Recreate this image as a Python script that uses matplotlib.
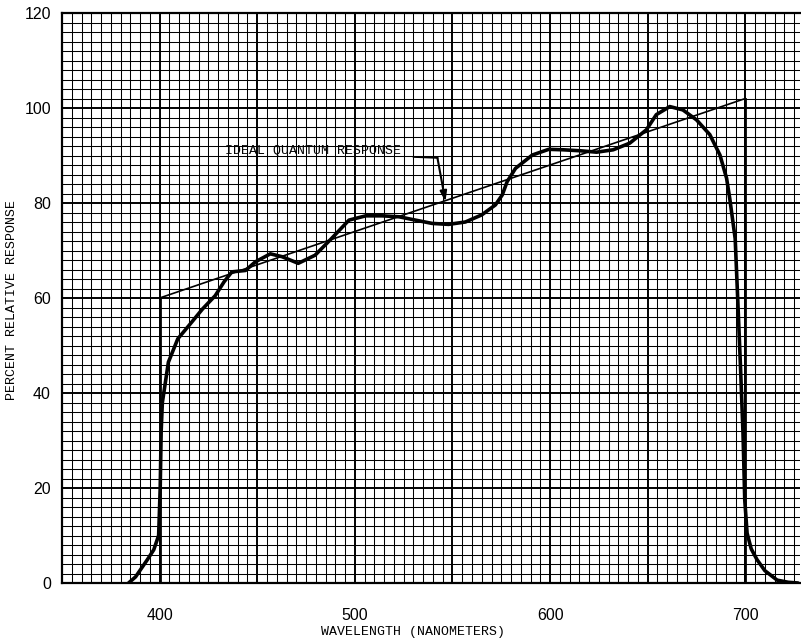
import matplotlib
matplotlib.use("Agg")
import matplotlib.pyplot as plt
from matplotlib.ticker import MultipleLocator, FuncFormatter

# Measured response curve (wavelength nm, percent relative response)
wavelength = [384.1, 387.7, 393.7, 397.0, 399.5, 400.3, 400.8, 401.4, 402.5, 404.5,
              409.3, 415.0, 422.0, 428.5, 433.0, 437.0, 444.0, 449.0, 456.7, 462.7,
              471.0, 479.6, 488.0, 497.0, 505.6, 514.0, 522.6, 531.0, 539.6, 548.0,
              556.6, 565.0, 572.0, 575.5, 578.0, 582.3, 590.9, 599.3, 606.8, 615.3,
              623.8, 632.3, 640.8, 649.3, 654.4, 661.3, 668.0, 675.0, 681.8, 687.0,
              690.4, 692.0, 694.8, 696.1, 697.5, 698.8, 699.7, 700.9, 703.0, 706.0,
              710.0, 716.3, 722.0, 727.0]
response = [0.0, 1.3, 4.9, 7.0, 10.0, 20.0, 32.0, 38.0, 41.0, 46.5,
            51.4, 54.2, 57.7, 60.5, 63.4, 65.5, 65.8, 67.6, 69.3, 68.7,
            67.3, 69.0, 72.5, 76.4, 77.3, 77.3, 77.1, 76.4, 75.7, 75.5,
            76.0, 77.5, 79.6, 81.7, 84.5, 87.3, 90.1, 91.3, 91.2, 91.0,
            90.7, 91.2, 92.6, 95.4, 98.6, 100.3, 99.6, 97.5, 94.4, 90.1,
            85.2, 81.0, 72.5, 59.8, 45.7, 31.6, 17.5, 10.5, 7.2, 4.9,
            2.6, 0.6, 0.15, 0.0]

# Ideal quantum response outline
ideal_x = [400, 400, 700, 700]
ideal_y = [0, 60, 102, 0]

x_ticks = [400, 500, 600, 700]
y_ticks = [0, 20, 40, 60, 80, 100, 120]

label_text = "IDEAL QUANTUM RESPONSE"
leader_x = [530.1, 542.3]
leader_y = [89.7, 89.5]
arrow_head = (546.4, 80.3)

fig = plt.figure(figsize=(8.01, 6.40), dpi=100)
ax = fig.add_axes([62 / 801, 1 - 583 / 640, 738 / 801, 570 / 640])

ax.set_xlim(350, 728)
ax.set_ylim(0, 120)

ax.xaxis.set_major_locator(MultipleLocator(50))
ax.xaxis.set_minor_locator(MultipleLocator(5))
ax.yaxis.set_major_locator(MultipleLocator(20))
ax.yaxis.set_minor_locator(MultipleLocator(2))

ax.xaxis.set_major_formatter(FuncFormatter(
    lambda v, p: f"{int(round(v))}" if int(round(v)) in x_ticks else ""))
ax.yaxis.set_major_formatter(FuncFormatter(
    lambda v, p: f"{int(round(v))}" if int(round(v)) in y_ticks else ""))

ax.grid(which="minor", color="black", linewidth=0.75)
ax.grid(which="major", color="black", linewidth=1.4)
ax.set_axisbelow(True)

ax.tick_params(which="both", length=0)
ax.tick_params(axis="x", pad=18, labelsize=11.5)
ax.tick_params(axis="y", pad=8, labelsize=11.5)
for lab in ax.get_xticklabels() + ax.get_yticklabels():
    lab.set_fontfamily("Liberation Sans")

for side in ["left", "bottom", "top"]:
    ax.spines[side].set_linewidth(1.6)
ax.spines["right"].set_visible(False)

# ideal response
ax.plot(ideal_x[1:3], ideal_y[1:3], color="black", linewidth=1.2, zorder=3)
ax.plot(ideal_x[:2], ideal_y[:2], color="black", linewidth=2.0, zorder=3)
ax.plot(ideal_x[2:], ideal_y[2:], color="black", linewidth=2.0, zorder=3)

# measured response
ax.plot(wavelength, response, color="black", linewidth=2.6, zorder=4,
        solid_joinstyle="round", solid_capstyle="round")

# annotation
ax.text(433.3, 91.0, label_text, family="Liberation Mono", fontsize=9.5,
        ha="left", va="center", zorder=5)
ax.plot(leader_x, leader_y, color="black", linewidth=1.3, zorder=5)
ax.annotate("", xy=arrow_head, xytext=(leader_x[-1], leader_y[-1]),
            arrowprops=dict(arrowstyle="-|>,head_length=0.6,head_width=0.2",
                            color="black", lw=1.5, shrinkA=0, shrinkB=0),
            zorder=5)

fig.text(12 / 801, 1 - 300 / 640, "PERCENT RELATIVE RESPONSE", rotation=90,
         family="Liberation Mono", fontsize=9.5, ha="center", va="center")
fig.text(413 / 801, 1 - 632 / 640, "WAVELENGTH (NANOMETERS)",
         family="Liberation Mono", fontsize=9.5, ha="center", va="center")

fig.savefig("out.png", dpi=100)
